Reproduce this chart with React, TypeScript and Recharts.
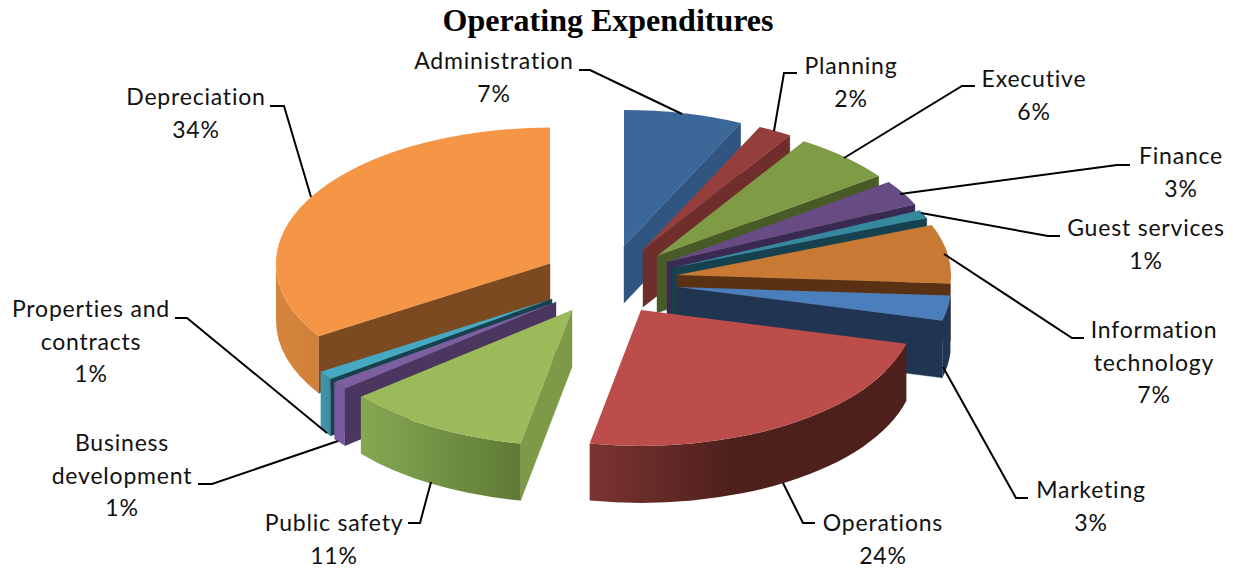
import { Pie, PieChart } from "recharts";

const categories = [
  "Administration",
  "Planning",
  "Executive",
  "Finance",
  "Guest services",
  "Information technology",
  "Marketing",
  "Operations",
  "Public safety",
  "Business development",
  "Properties and contracts",
  "Depreciation",
];
const shares = [7, 2, 6, 3, 1, 7, 3, 24, 11, 1, 1, 34];

const topColors = ["#3b6899", "#953f3c", "#7f9b45", "#664c83", "#36889f", "#c87a35", "#4b7fbc", "#bc4d4a", "#9bba59", "#7d5fa0", "#46a9c4", "#f49646"];
const cutColors = ["#2f5580", "#6f2e2c", "#485a26", "#3a2950", "#16414e", "#5a3213", "#1f3552", "#4f201d", "#7d9a47", "#4b3660", "#16414e", "#7b4a20"];
const wallColors: [string, string][] = [
  ["#2f5580", "#2f5580"],
  ["#6f2e2c", "#6f2e2c"],
  ["#485a26", "#485a26"],
  ["#3a2950", "#3a2950"],
  ["#16414e", "#16414e"],
  ["transparent", "transparent"],
  ["#1f3552", "#1f3552"],
  ["#7c3432", "#4d201c"],
  ["#86a852", "#5e7a35"],
  ["#7a5a9e", "#7a5a9e"],
  ["#4094ad", "#3e8ca5"],
  ["#d5853c", "#d08038"],
];

const data = categories.map((name, i) => ({ name, share: shares[i] }));

const CHART_W = 1233;
const CHART_H = 568;
const CX = 610;
const CY = 275;
const RADIUS = 274;
const TILT = 0.496;
const DEPTH = 57;

// where each exploded slice's tip sits, relative to the pie centre
const explode: [number, number][] = [
  [14, -29],
  [33, -25],
  [47, -19],
  [57, -13],
  [62, -7],
  [67, 0],
  [67, 12],
  [31, 35],
  [-38, 35],
  [-54, 27],
  [-58, 24],
  [-60, -11.5],
];

// back to front, the left hand slices are stacked the other way round
const paintOrder = [0, 1, 2, 3, 4, 5, 6, 7, 11, 10, 9, 8];

const labelFont = "Lato, Carlito, sans-serif";
const LINE_PITCH = 32.5;

const labelLayout: { cx: number; y: number; lines: string[]; leader: number[][] }[] = [
  { cx: 494, y: 69, lines: ["Administration", "7%"], leader: [[579, 70], [590, 70], [682, 114]] },
  { cx: 851, y: 74, lines: ["Planning", "2%"], leader: [[797, 73], [784, 73], [774, 131]] },
  { cx: 1034, y: 87, lines: ["Executive", "6%"], leader: [[975, 86], [962, 86], [844, 158]] },
  { cx: 1181, y: 164, lines: ["Finance", "3%"], leader: [[1130, 165], [1117, 165], [900, 194]] },
  { cx: 1146, y: 236, lines: ["Guest services", "1%"], leader: [[1060, 236], [1048, 236], [921, 213]] },
  { cx: 1154, y: 338, lines: ["Information", "technology", "7%"], leader: [[1084, 338], [1072, 338], [944, 254]] },
  { cx: 1091, y: 498, lines: ["Marketing", "3%"], leader: [[1028, 498], [1016, 498], [943, 367]] },
  { cx: 883, y: 531, lines: ["Operations", "24%"], leader: [[815, 523], [803, 523], [783, 483]] },
  { cx: 334, y: 531, lines: ["Public safety", "11%"], leader: [[408, 523], [420, 523], [431, 482]] },
  { cx: 122, y: 451, lines: ["Business", "development", "1%"], leader: [[198, 484], [212, 484], [338, 441]] },
  { cx: 91, y: 317, lines: ["Properties and", "contracts", "1%"], leader: [[175, 318], [187, 318], [327, 433]] },
  { cx: 196, y: 105, lines: ["Depreciation", "34%"], leader: [[270, 106], [284, 106], [311, 197]] },
];

const RAD = Math.PI / 180;

function faceVisible(tip: number[], corner: number[], mid: number[]) {
  const dx = corner[0] - tip[0];
  if (Math.abs(dx) < 0.01) return false;
  const edgeY = tip[1] + ((corner[1] - tip[1]) / dx) * (mid[0] - tip[0]);
  return mid[1] < edgeY;
}

// draws one slice as a tilted wedge with its cut faces and rim
function wedge(only: number) {
  return function WedgeShape(props: any) {
    const { cx, cy, outerRadius, startAngle, endAngle } = props;
    const i = props.index ?? categories.indexOf(props.name);
    if (i !== only) return <g />;
    const ry = outerRadius * TILT;
    const tx = cx + explode[i][0];
    const ty = cy + explode[i][1];
    const at = (a: number) => [tx + outerRadius * Math.cos(a * RAD), ty - ry * Math.sin(a * RAD)];
    const p0 = at(startAngle);
    const p1 = at(endAngle);
    const mid = at((startAngle + endAngle) / 2);
    const top = `M${tx},${ty}L${p0[0]},${p0[1]}A${outerRadius},${ry} 0 ${startAngle - endAngle > 180 ? 1 : 0} 1 ${p1[0]},${p1[1]}Z`;

    const faces = [p0, p1]
      .filter((p) => faceVisible([tx, ty], p, mid))
      .map((p) => `M${tx},${ty}L${p[0]},${p[1]}L${p[0]},${p[1] + DEPTH}L${tx},${ty + DEPTH}Z`);

    // the rim only shows on the near half of the ellipse, angles run from 90 down to -270
    const from = Math.min(startAngle, 0);
    const to = Math.max(endAngle, -180);
    let rim: string | null = null;
    if (from > to) {
      const a = at(from);
      const b = at(to);
      rim = `M${a[0]},${a[1]}A${outerRadius},${ry} 0 0 1 ${b[0]},${b[1]}L${b[0]},${b[1] + DEPTH}A${outerRadius},${ry} 0 0 0 ${a[0]},${a[1] + DEPTH}Z`;
    }
    const gradId = `rim-${i}`;
    return (
      <g>
        <defs>
          <linearGradient id={gradId} x1="0" y1="0" x2="1" y2="0">
            <stop offset="0%" stopColor={wallColors[i][0]} />
            <stop offset={i === 7 ? "45%" : "100%"} stopColor={wallColors[i][1]} />
          </linearGradient>
        </defs>
        {faces.map((d, k) => (
          <path key={k} d={d} fill={cutColors[i]} stroke={cutColors[i]} strokeWidth={0.4} />
        ))}
        {rim && <path d={rim} fill={`url(#${gradId})`} />}
        <path d={top} fill={topColors[i]} />
      </g>
    );
  };
}

function renderLabel(props: any) {
  const layout = labelLayout[props.index];
  if (!layout) return <g />;
  return (
    <g>
      <polyline
        points={layout.leader.map((p) => p.join(",")).join(" ")}
        fill="none"
        stroke="#000"
        strokeWidth={2}
      />
      {layout.lines.map((line, k) => (
        <text
          key={k}
          x={layout.cx}
          y={layout.y + k * LINE_PITCH}
          textAnchor="middle"
          fontFamily={labelFont}
          fontSize={23}
          letterSpacing={0.8}
          fill="#111"
        >
          {line}
        </text>
      ))}
    </g>
  );
}

export default function App() {
  return (
    <div style={{ position: "absolute", left: 0, top: 0, width: CHART_W, height: CHART_H, background: "#fff" }}>
      <PieChart width={CHART_W} height={CHART_H} margin={{ top: 0, right: 0, bottom: 0, left: 0 }}>
        {paintOrder.map((idx) => (
          <Pie
            key={idx}
            data={data}
            dataKey="share"
            nameKey="name"
            cx={CX}
            cy={CY}
            innerRadius={0}
            outerRadius={RADIUS}
            startAngle={90}
            endAngle={-270}
            stroke="none"
            shape={wedge(idx)}
            label={false}
            labelLine={false}
            isAnimationActive={false}
          />
        ))}
        <Pie
          data={data}
          dataKey="share"
          nameKey="name"
          cx={CX}
          cy={CY}
          innerRadius={0}
          outerRadius={RADIUS}
          startAngle={90}
          endAngle={-270}
          fill="none"
          stroke="none"
          label={renderLabel}
          labelLine={false}
          isAnimationActive={false}
        />
        <text
          x={608}
          y={31}
          textAnchor="middle"
          fontFamily="'Liberation Serif', serif"
          fontWeight="bold"
          fontSize={32}
          fill="#000"
        >
          Operating Expenditures
        </text>
      </PieChart>
    </div>
  );
}
